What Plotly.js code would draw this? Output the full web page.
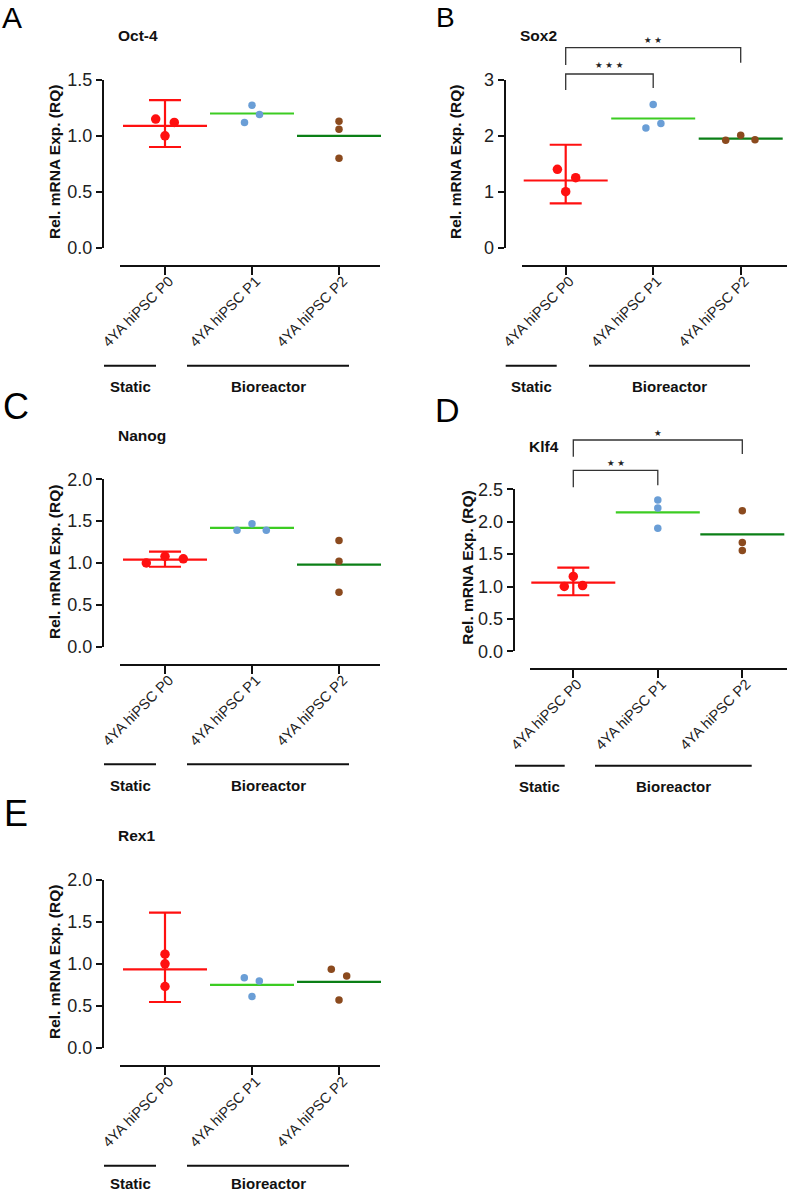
<!DOCTYPE html>
<html>
<head>
<meta charset="utf-8">
<script src="https://cdn.plot.ly/plotly-3.0.1.min.js"></script>
<style>html,body{margin:0;padding:0;background:#fff;}#chart{width:787px;height:1193px;}</style>
</head>
<body>
<div id="chart"></div>
<script>
// ---------------- DATA ----------------
const categories = ['4YA hiPSC P0', '4YA hiPSC P1', '4YA hiPSC P2'];
const groupLabels = ['Static', 'Bioreactor'];
const panelLetters = ['A', 'B', 'C', 'D', 'E'];
const genes = ['Oct-4', 'Sox2', 'Nanog', 'Klf4', 'Rex1'];
const yAxisTitle = 'Rel. mRNA Exp. (RQ)';

// replicate values (RQ) per group
const oct4_P0 = [1.15, 1.12, 1.00];
const oct4_P1 = [1.275, 1.19, 1.12];
const oct4_P2 = [1.13, 1.06, 0.80];
const oct4_mean = [1.09, 1.20, 1.00];
const oct4_errP0 = [1.32, 0.90];          // upper / lower end of the P0 error bar

const sox2_P0 = [1.40, 1.25, 1.00];
const sox2_P1 = [2.56, 2.22, 2.14];
const sox2_P2 = [1.92, 2.01, 1.93];
const sox2_mean = [1.20, 2.31, 1.95];
const sox2_errP0 = [1.84, 0.79];

const nanog_P0 = [1.00, 1.08, 1.05];
const nanog_P1 = [1.39, 1.47, 1.39];
const nanog_P2 = [1.27, 1.02, 0.65];
const nanog_mean = [1.04, 1.42, 0.98];
const nanog_errP0 = [1.135, 0.955];

const klf4_P0 = [1.00, 1.155, 1.015];
const klf4_P1 = [2.335, 2.21, 1.90];
const klf4_P2 = [2.17, 1.68, 1.555];
const klf4_mean = [1.06, 2.145, 1.805];
const klf4_errP0 = [1.29, 0.865];

const rex1_P0 = [1.115, 1.00, 0.73];
const rex1_P1 = [0.835, 0.795, 0.61];
const rex1_P2 = [0.935, 0.855, 0.57];
const rex1_mean = [0.935, 0.75, 0.785];
const rex1_errP0 = [1.61, 0.545];

// significance comparisons: [from category, to category, label]
const sox2_sig = [[0, 1, '★ ★ ★'], [0, 2, '★ ★']];
const klf4_sig = [[0, 1, '★ ★'], [0, 2, '★']];

const panelData = [
  {pts: [oct4_P0, oct4_P1, oct4_P2], mean: oct4_mean, err: oct4_errP0, sig: []},
  {pts: [sox2_P0, sox2_P1, sox2_P2], mean: sox2_mean, err: sox2_errP0, sig: sox2_sig},
  {pts: [nanog_P0, nanog_P1, nanog_P2], mean: nanog_mean, err: nanog_errP0, sig: []},
  {pts: [klf4_P0, klf4_P1, klf4_P2], mean: klf4_mean, err: klf4_errP0, sig: klf4_sig},
  {pts: [rex1_P0, rex1_P1, rex1_P2], mean: rex1_mean, err: rex1_errP0, sig: []}
];

// ---------------- LAYOUT GEOMETRY (pixels) ----------------
const W = 787, H = 1193;
const geom = [
  {letter: [1, 17, 30], title: [116, 36], yPx: [80, 247.5], yAxisX: 103, xPx: [120, 380], cat0: 165, step: 87, xAxisY: 266,
   yRange: [0, 1.5], dtick: 0.5, fmt: '.1f', yTitle: [54, 162], gY: 365.7, gLblY: 386.7, sX: [104, 156], bX: [187, 349], sC: 130, bC: 268,
   jit: [[-9.3, 9.3, 0], [0, 7.5, -7.5], [0, 0, 0]], br: []},
  {letter: [435, 17.5, 28], title: [518, 36], yPx: [80, 247.5], yAxisX: 504.5, xPx: [522, 787], cat0: 565.7, step: 87.5, xAxisY: 266,
   yRange: [0, 3], dtick: 1, fmt: 'd', yTitle: [455, 162], gY: 365.7, gLblY: 386.7, sX: [505.7, 556.7], bX: [589, 750], sC: 531, bC: 669.3,
   jit: [[-8.3, 10, 0], [0, 7.7, -7.3], [-15, 0, 14.3]],
   br: [{top: 74, lb: 90, rb: 88, star: 65}, {top: 47.7, lb: 65, rb: 62.7, star: 40}]},
  {letter: [2, 406.5, 36], title: [116, 435], yPx: [479.3, 646.7], yAxisX: 103, xPx: [120, 380], cat0: 165, step: 87, xAxisY: 665,
   yRange: [0, 2], dtick: 0.5, fmt: '.1f', yTitle: [54, 562], gY: 764.3, gLblY: 785.7, sX: [104, 156], bX: [187, 349], sC: 130, bC: 268,
   jit: [[-18.7, 0, 18.3], [-15, 0, 14.3], [0, 0, 0]], br: []},
  {letter: [434, 409.5, 34], title: [527, 446.7], yPx: [489.3, 651.3], yAxisX: 513.7, xPx: [530, 787], cat0: 573.3, step: 84.5, xAxisY: 669,
   yRange: [0, 2.5], dtick: 0.5, fmt: '.1f', yTitle: [466.7, 568], gY: 765.7, gLblY: 786, sX: [515, 564.7], bX: [595, 751.7], sC: 539.3, bC: 673.3,
   jit: [[-9, 0, 9.3], [0, 0, 0], [0, 0, 0]],
   br: [{top: 470.3, lb: 487.3, rb: 485.3, star: 463.3}, {top: 440, lb: 456.7, rb: 454, star: 433.3}]},
  {letter: [3, 813.5, 36], title: [116, 835.7], yPx: [880, 1047.7], yAxisX: 103, xPx: [120, 380], cat0: 165, step: 87, xAxisY: 1066.3,
   yRange: [0, 2], dtick: 0.5, fmt: '.1f', yTitle: [54, 962], gY: 1165.7, gLblY: 1183, sX: [104, 156], bX: [187, 349], sC: 130, bC: 268,
   jit: [[0, 0, 0], [-7.7, 7.3, 0], [-7.7, 7.7, 0]], br: []}
];

// ---------------- STYLES ----------------
const ptColors = ['#ff1010', '#6a9ed6', '#8b4a1e'];
const meanColors = ['#ff1010', '#3ccc22', '#0b7f16'];
const ptSizes = [9.5, 7.5, 7.5];
const meanLen = 60;
const axisColor = '#111111';
const FONT = 'Liberation Sans, Arial, sans-serif';

const px = x => x / W;
const py = y => 1 - y / H;

const traces = [];
const annotations = [];
const shapes = [];
const layout = {
  width: W, height: H,
  margin: {l: 0, r: 0, t: 0, b: 0},
  paper_bgcolor: '#ffffff', plot_bgcolor: 'rgba(0,0,0,0)',
  showlegend: false, hovermode: false,
  font: {family: FONT, color: '#222'}
};

geom.forEach((g, i) => {
  const d = panelData[i];
  const n = i + 1;
  const xa = 'x' + (n === 1 ? '' : n), ya = 'y' + (n === 1 ? '' : n);
  const xKey = 'xaxis' + (n === 1 ? '' : n), yKey = 'yaxis' + (n === 1 ? '' : n);
  layout[xKey] = {
    domain: [px(g.xPx[0]), px(g.xPx[1])],
    range: [(g.xPx[0] - g.cat0) / g.step, (g.xPx[1] - g.cat0) / g.step],
    anchor: 'free', position: py(g.xAxisY),
    tickmode: 'array', tickvals: [0, 1, 2], ticktext: categories,
    tickangle: -45, tickfont: {family: FONT, size: 14.5, color: '#222'},
    ticklabelstandoff: -8, ticklabelshift: 4,
    showline: true, linewidth: 2, linecolor: axisColor,
    ticks: 'outside', ticklen: 8, tickwidth: 2, tickcolor: axisColor,
    showgrid: false, zeroline: false, fixedrange: true
  };
  layout[yKey] = {
    domain: [py(g.yPx[1]), py(g.yPx[0])],
    range: g.yRange,
    anchor: 'free', position: px(g.yAxisX),
    tickmode: 'linear', tick0: 0, dtick: g.dtick, tickformat: g.fmt,
    tickfont: {family: FONT, size: 18, color: '#222'},
    showline: true, linewidth: 2, linecolor: axisColor,
    ticks: 'outside', ticklen: 6, tickwidth: 2, tickcolor: axisColor,
    showgrid: false, zeroline: false, fixedrange: true
  };

  // mean lines (+ error bar for P0)
  for (let c = 0; c < 3; c++) {
    const t = {
      type: 'scatter', mode: 'markers', xaxis: xa, yaxis: ya,
      x: [c], y: [d.mean[c]], cliponaxis: false,
      marker: {symbol: 'line-ew', size: meanLen, color: meanColors[c], line: {color: meanColors[c], width: 2.2}}
    };
    if (c === 0) {
      t.error_y = {type: 'data', symmetric: false, array: [d.err[0] - d.mean[0]], arrayminus: [d.mean[0] - d.err[1]],
        color: meanColors[0], thickness: 2.2, width: 16};
    }
    traces.push(t);
  }
  // replicate points
  for (let c = 0; c < 3; c++) {
    traces.push({
      type: 'scatter', mode: 'markers', xaxis: xa, yaxis: ya, cliponaxis: false,
      x: d.pts[c].map((v, k) => c + g.jit[c][k] / g.step), y: d.pts[c],
      marker: {symbol: 'circle', size: ptSizes[c], color: ptColors[c], line: {width: 0}}
    });
  }

  // panel letter
  annotations.push({xref: 'paper', yref: 'paper', x: px(g.letter[0]), y: py(g.letter[1]), xanchor: 'left', yanchor: 'middle',
    text: panelLetters[i], showarrow: false, borderpad: 0, font: {family: FONT, size: g.letter[2], color: '#000'}});
  // gene title
  annotations.push({xref: 'paper', yref: 'paper', x: px(g.title[0]), y: py(g.title[1]), xanchor: 'left', yanchor: 'middle',
    text: '<b>' + genes[i] + '</b>', showarrow: false, font: {family: FONT, size: 15.5, color: '#111'}});
  // y axis title
  annotations.push({xref: 'paper', yref: 'paper', x: px(g.yTitle[0]), y: py(g.yTitle[1]), xanchor: 'center', yanchor: 'middle',
    text: '<b>' + yAxisTitle + '</b>', textangle: -90, showarrow: false, font: {family: FONT, size: 15.5, color: '#111'}});
  // group lines and labels
  shapes.push({type: 'line', xref: 'paper', yref: 'paper', x0: px(g.sX[0]), x1: px(g.sX[1]), y0: py(g.gY), y1: py(g.gY), line: {color: '#111', width: 2}});
  shapes.push({type: 'line', xref: 'paper', yref: 'paper', x0: px(g.bX[0]), x1: px(g.bX[1]), y0: py(g.gY), y1: py(g.gY), line: {color: '#111', width: 2}});
  annotations.push({xref: 'paper', yref: 'paper', x: px(g.sC), y: py(g.gLblY), xanchor: 'center', yanchor: 'middle', borderpad: 0,
    text: '<b>' + groupLabels[0] + '</b>', showarrow: false, font: {family: FONT, size: 15, color: '#111'}});
  annotations.push({xref: 'paper', yref: 'paper', x: px(g.bC), y: py(g.gLblY), xanchor: 'center', yanchor: 'middle', borderpad: 0,
    text: '<b>' + groupLabels[1] + '</b>', showarrow: false, font: {family: FONT, size: 15, color: '#111'}});

  // significance brackets
  d.sig.forEach((s, k) => {
    const b = g.br[k];
    const xl = g.cat0 + s[0] * g.step, xr = g.cat0 + s[1] * g.step;
    shapes.push({type: 'path', xref: 'paper', yref: 'paper',
      path: `M ${px(xl)},${py(b.lb)} L ${px(xl)},${py(b.top)} L ${px(xr)},${py(b.top)} L ${px(xr)},${py(b.rb)}`,
      line: {color: '#333', width: 1.3}});
    annotations.push({xref: 'paper', yref: 'paper', x: px((xl + xr) / 2), y: py(b.star), xanchor: 'center', yanchor: 'middle',
      text: s[2], showarrow: false, font: {family: 'DejaVu Sans, sans-serif', size: 8.5, color: '#222'}});
  });
});

layout.annotations = annotations;
layout.shapes = shapes;

Plotly.newPlot('chart', traces, layout, {staticPlot: true, displayModeBar: false});
</script>
</body>
</html>
